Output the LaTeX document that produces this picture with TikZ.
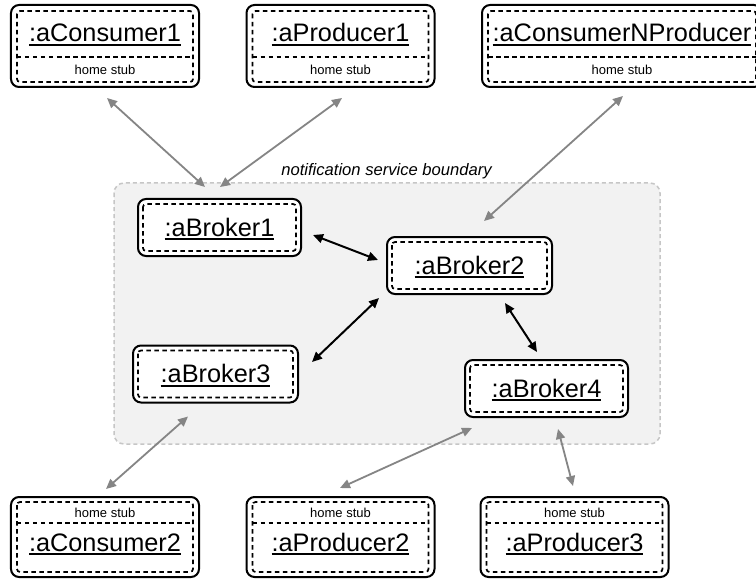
\documentclass[tikz,border=0pt]{standalone}
\usepackage{fontspec}
\setmainfont{Liberation Sans}
\usetikzlibrary{arrows.meta}

\definecolor{linkgray}{HTML}{858585}
\definecolor{zonefill}{HTML}{F2F2F2}
\definecolor{zoneline}{HTML}{C6C6C6}

% object name, underlined with a heavier rule
\newcommand\objname[1]{\setbox0=\hbox{#1}\hbox{\copy0\kern-\wd0\vrule width \wd0 height -2bp depth 4bp}}
\newcommand\objfont{\fontsize{25.3bp}{30bp}\selectfont}
\newcommand\stubfont{\fontsize{13bp}{15bp}\selectfont}

\tikzset{
  objbox/.style={draw, fill=white, line width=2bp, rounded corners=8bp, inner sep=0pt},
  innerdash/.style={line width=1.7bp, dash pattern=on 4.5bp off 3.5bp, rounded corners=3bp},
  objtext/.style={font=\objfont, inner sep=0pt},
  stubtext/.style={font=\stubfont, inner sep=0pt},
  extlink/.style={draw=linkgray, line width=1.8bp,
    {Triangle[length=10bp,width=9bp]}-{Triangle[length=10bp,width=9bp]}},
  brokerlink/.style={draw=black, line width=2bp,
    {Triangle[length=10bp,width=9bp]}-{Triangle[length=10bp,width=9bp]}},
}

% client object with its home stub below the name
\newcommand\TopObject[4]{%
  \node[objbox, minimum width=#3bp, minimum height=82bp] (#1) at (#2,46) {};
  \draw[innerdash] ([shift={(7,7)}]#1.north west) rectangle ([shift={(-7,-6)}]#1.south east);
  \draw[innerdash] ([shift={(7,53)}]#1.north west) -- ([shift={(-7,53)}]#1.north east);
  \node[objtext, anchor=base] (#1-name) at (#2,42) {\objname{#4}};
  \node[stubtext, anchor=base] (#1-stub) at (#2,75) {home stub};
}
% client object with its home stub above the name
\newcommand\BottomObject[4]{%
  \node[objbox, minimum width=#3bp, minimum height=80bp] (#1) at (#2,537) {};
  \draw[innerdash] ([shift={(7,6)}]#1.north west) rectangle ([shift={(-7,-6)}]#1.south east);
  \draw[innerdash] ([shift={(7,27)}]#1.north west) -- ([shift={(-7,27)}]#1.north east);
  \node[stubtext, anchor=base] (#1-stub) at (#2,517) {home stub};
  \node[objtext, anchor=base] (#1-name) at (#2,551) {\objname{#4}};
}
% broker object
\newcommand\BrokerObject[5]{%
  \node[objbox, minimum width=#4bp, minimum height=57bp] (#1) at (#2,#3) {};
  \draw[innerdash] ([shift={(6,6)}]#1.north west) rectangle ([shift={(-6,-6)}]#1.south east);
  \node[objtext, anchor=base] (#1-name) at ([shift={(0,8.5)}]#1.center) {\objname{#5}};
}

\begin{document}
\begin{tikzpicture}[x=1bp, y=-1bp]
\useasboundingbox (0,0) rectangle (756,581);
\clip (0,0) rectangle (756,581);

% notification service boundary
\draw[fill=zonefill, draw=zoneline, line width=1.5bp, dash pattern=on 4bp off 3bp, rounded corners=10bp]
  (114,183) rectangle (660,444);
\node[font=\fontsize{16.6bp}{19bp}\selectfont\itshape, anchor=base, inner sep=0pt] (zonelabel)
  at (386.5,176) {notification service boundary};

% clients above
\TopObject{c1}{105}{188}{:aConsumer1}
\TopObject{p1}{340.5}{188}{:aProducer1}
\TopObject{cp}{622}{280}{:aConsumerNProducer}

% brokers
\BrokerObject{b1}{219.5}{227.5}{163}{:aBroker1}
\BrokerObject{b2}{469.5}{265.5}{165}{:aBroker2}
\BrokerObject{b3}{215.5}{374}{165}{:aBroker3}
\BrokerObject{b4}{546.5}{388.5}{163}{:aBroker4}

% clients below
\BottomObject{c2}{105}{188}{:aConsumer2}
\BottomObject{p2}{340.5}{188}{:aProducer2}
\BottomObject{p3}{574.5}{188}{:aProducer3}

% client to home broker links
\draw[extlink] ([shift={(2,10)}]c1.south) -- ([shift={(-14.5,-11)}]b1.north);
\draw[extlink] ([shift={(1.5,10)}]p1.south) -- ([shift={(0.5,-11)}]b1.north);
\draw[extlink] ([shift={(1,8)}]cp.south) -- ([shift={(14.5,-15)}]b2.north);
\draw[extlink] ([shift={(-27.5,13)}]b3.south) -- ([shift={(1,-7)}]c2.north);
\draw[extlink] ([shift={(8,10)}]b4.south west) -- ([shift={(-0.5,-8)}]p2.north);
\draw[extlink] ([shift={(11.5,11)}]b4.south) -- ([shift={(-1.5,-10)}]p3.north);

% broker to broker links
\draw[brokerlink] ([shift={(11,7.5)}]b1.east) -- ([shift={(-8,-5.5)}]b2.west);
\draw[brokerlink] ([shift={(-7,3)}]b2.south west) -- ([shift={(13,-12)}]b3.east);
\draw[brokerlink] ([shift={(35.5,8)}]b2.south) -- ([shift={(-9.5,-7)}]b4.north);
\end{tikzpicture}
\end{document}
